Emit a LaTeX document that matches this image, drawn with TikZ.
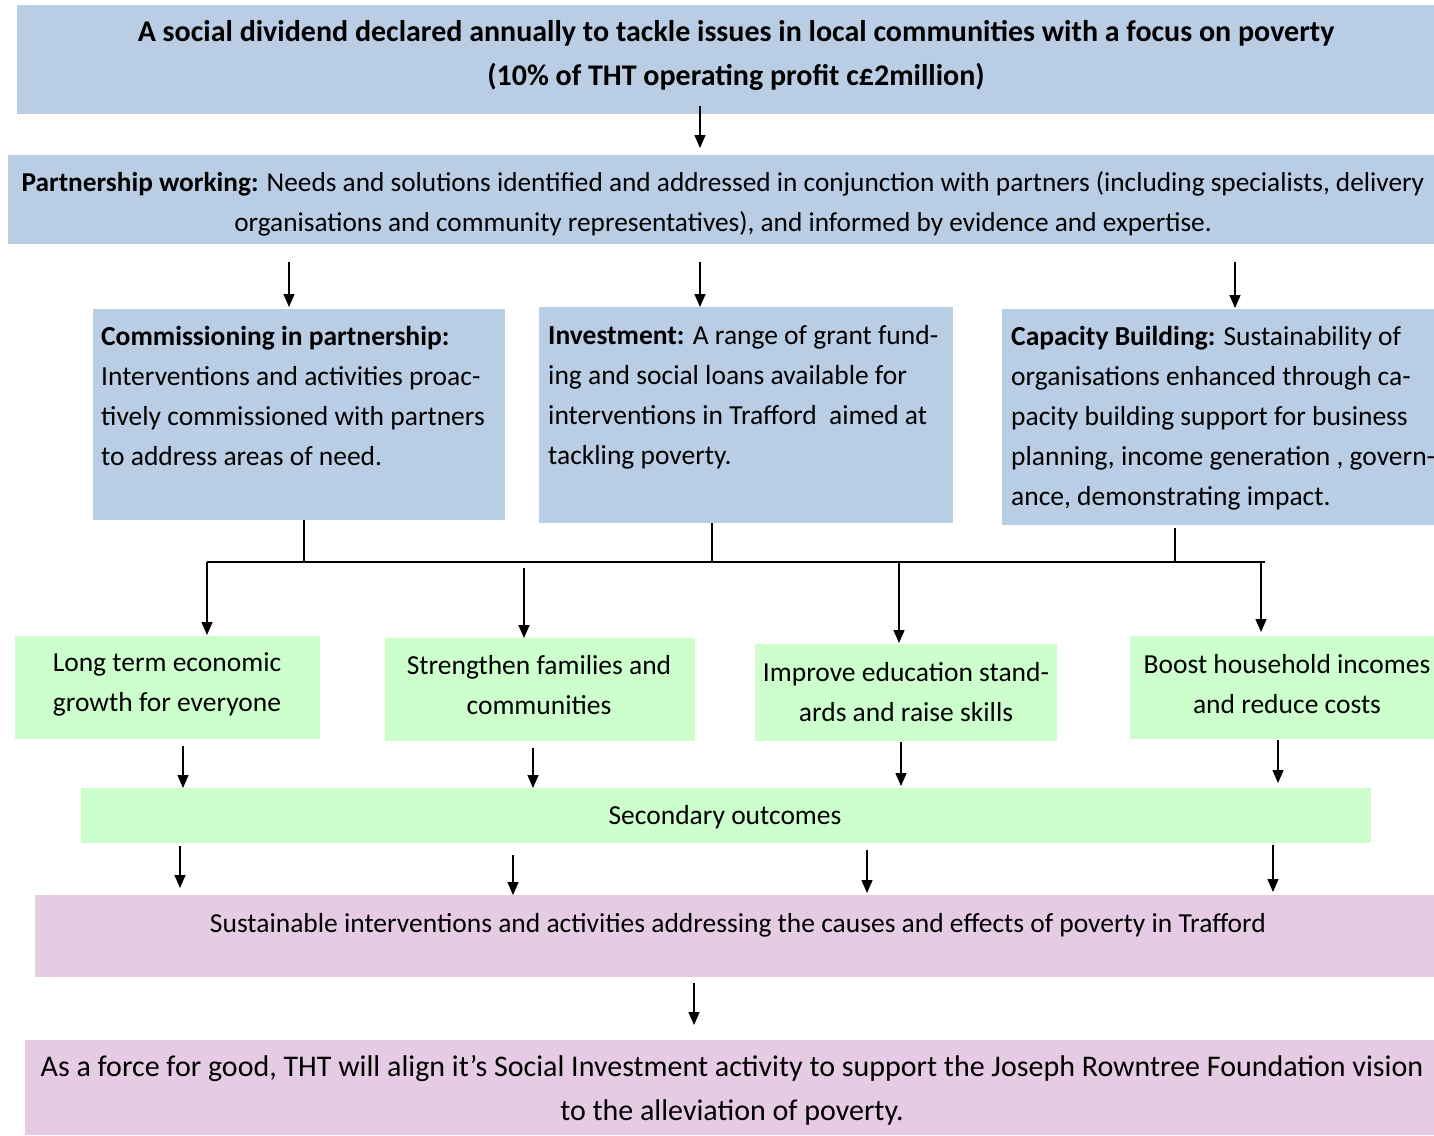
\documentclass[tikz,border=0pt]{standalone}
\usepackage{fontspec}
\setmainfont{Carlito}
\usetikzlibrary{arrows.meta}
\definecolor{bl}{HTML}{B9CDE5}
\definecolor{gr}{HTML}{CCFFCC}
\definecolor{pk}{HTML}{E5CCE4}
\begin{document}
\begin{tikzpicture}[x=1pt,y=-1pt,
  box/.style={draw=none, inner sep=0pt, anchor=north west},
  txt/.style={inner sep=0pt, text=black, font=\fontsize{27.5}{40}\selectfont},
  arr/.style={line width=1.4pt, -{Triangle[width=11pt,length=13pt]}},
  ln/.style={line width=1.4pt}]
\useasboundingbox (0,0) rectangle (1434,1135);
\fill[white] (0,0) rectangle (1434,1135);

% boxes
\node[box, fill=bl, minimum width=1417, minimum height=109] (top) at (17,5) {};
\node[box, fill=bl, minimum width=1426, minimum height=89] (part) at (8,155) {};
\node[box, fill=bl, minimum width=412, minimum height=211] (com) at (93,309) {};
\node[box, fill=bl, minimum width=414, minimum height=216] (inv) at (539,307) {};
\node[box, fill=bl, minimum width=432, minimum height=216] (cap) at (1002,309) {};
\node[box, fill=gr, minimum width=305, minimum height=103] (g1) at (15,636) {};
\node[box, fill=gr, minimum width=310, minimum height=103] (g2) at (385,638) {};
\node[box, fill=gr, minimum width=302, minimum height=97] (g3) at (755,644) {};
\node[box, fill=gr, minimum width=304, minimum height=103] (g4) at (1130,636) {};
\node[box, fill=gr, minimum width=1290, minimum height=55] (sec) at (81,788) {};
\node[box, fill=pk, minimum width=1399, minimum height=82] (sus) at (35,895) {};
\node[box, fill=pk, minimum width=1409, minimum height=95] (fin) at (25,1040) {};

% texts
\node[txt, align=center, font=\fontsize{30}{44}\selectfont\bfseries] (topT) at (736,55)
  {A social dividend declared annually to tackle issues in local communities with a focus on poverty\\(10\% of THT operating profit c£2million)};
\node[txt, align=center, font=\fontsize{27.3}{40}\selectfont] (partT) at (723,204)
  {\textbf{Partnership working:} Needs and solutions identified and addressed in conjunction with partners (including specialists, delivery\\organisations and community representatives), and informed by evidence and expertise.};
\node[txt, align=left, anchor=north west] (comT) at (101,326)
  {\textbf{Commissioning in partnership:}\\Interventions and activities proac-\\tively commissioned with partners\\to address areas of need.};
\node[txt, align=left, anchor=north west] (invT) at (548,325)
  {\textbf{Investment:} A range of grant fund-\\ing and social loans available for\\interventions in Trafford\ \ aimed at\\tackling poverty.};
\node[txt, align=left, anchor=north west] (capT) at (1011,326)
  {\textbf{Capacity Building:} Sustainability of\\organisations enhanced through ca-\\pacity building support for business\\planning, income generation , govern-\\ance, demonstrating impact.};
\node[txt, align=center] (g1T) at (167,684) {Long term economic\\growth for everyone};
\node[txt, align=center] (g2T) at (539,685) {Strengthen families and\\communities};
\node[txt, align=center] (g3T) at (906,692) {Improve education stand-\\ards and raise skills};
\node[txt, align=center] (g4T) at (1287,684) {Boost household incomes\\and reduce costs};
\node[txt] (secT) at (725,817) {Secondary outcomes};
\node[txt] (susT) at (738,925) {Sustainable interventions and activities addressing the causes and effects of poverty in Trafford};
\node[txt, align=center, font=\fontsize{30}{44}\selectfont] (finT) at (732,1090)
  {As a force for good, THT will align it’s Social Investment activity to support the Joseph Rowntree Foundation vision\\to the alleviation of poverty.};

% connectors
\draw[arr, shorten <=-8pt, shorten >=7pt] (top.south -| 700,0) -- (part.north -| 700,0);
\draw[arr, shorten <=18pt, shorten >=2pt] (part.south -| 289,0) -- (com.north -| 289,0);
\draw[arr, shorten <=18pt, shorten >=0pt] (part.south -| 700,0) -- (inv.north -| 700,0);
\draw[arr, shorten <=18pt, shorten >=1pt] (part.south -| 1235,0) -- (cap.north -| 1235,0);

\coordinate (busL) at (207,562);
\coordinate (busR) at (1265,562);
\draw[ln] (busL) -- (busR);
\draw[ln] (com.south -| 304,0) -- (busL -| 304,0);
\draw[ln] (inv.south -| 712,0) -- (busL -| 712,0);
\draw[ln, shorten <=3pt] (cap.south -| 1175,0) -- (busL -| 1175,0);

\draw[arr, shorten >=1pt] (busL) -- (g1.north -| busL);
\draw[arr, shorten <=6pt] (busL -| 524,0) -- (g2.north -| 524,0);
\draw[arr, shorten >=1pt] (busL -| 899,0) -- (g3.north -| 899,0);
\draw[arr, shorten >=4pt] (busR -| 1261,0) -- (g4.north -| 1261,0);

\draw[arr, shorten <=7pt] (g1.south -| 183,0) -- (sec.north -| 183,0);
\draw[arr, shorten <=7pt] (g2.south -| 533,0) -- (sec.north -| 533,0);
\draw[arr, shorten <=1pt, shorten >=2pt] (g3.south -| 901,0) -- (sec.north -| 901,0);
\draw[arr, shorten <=1pt, shorten >=5pt] (g4.south -| 1278,0) -- (sec.north -| 1278,0);

\draw[arr, shorten <=3pt, shorten >=7pt] (sec.south -| 180,0) -- (sus.north -| 180,0);
\draw[arr, shorten <=12pt] (sec.south -| 513,0) -- (sus.north -| 513,0);
\draw[arr, shorten <=7pt, shorten >=2pt] (sec.south -| 867,0) -- (sus.north -| 867,0);
\draw[arr, shorten <=2pt, shorten >=3pt] (sec.south -| 1273,0) -- (sus.north -| 1273,0);

\draw[arr, shorten <=6pt, shorten >=15pt] (sus.south -| 694,0) -- (fin.north -| 694,0);
\end{tikzpicture}
\end{document}
